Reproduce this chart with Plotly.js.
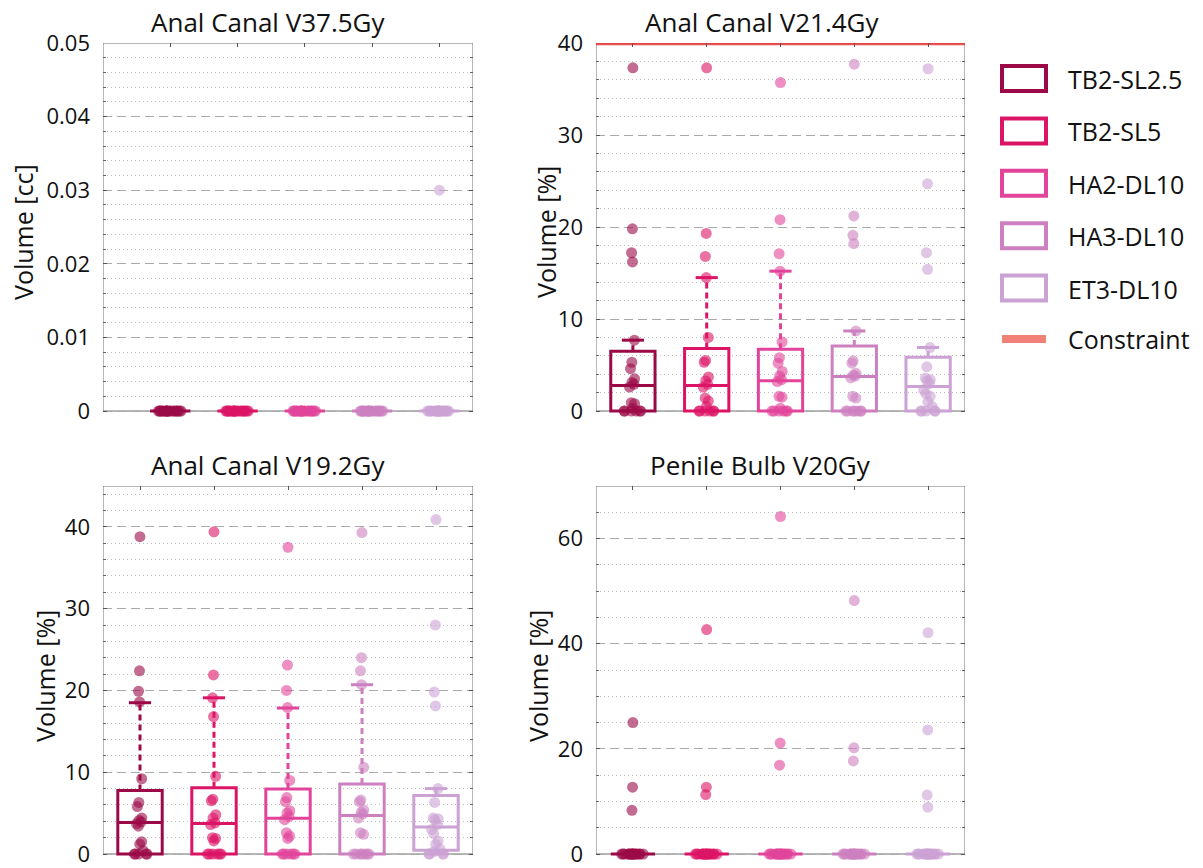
<!DOCTYPE html>
<html><head><meta charset="utf-8">
<script src="https://cdn.plot.ly/plotly-3.0.1.min.js"></script>
<style>html,body{margin:0;padding:0;background:#fff}</style>
</head><body><div id="chart" style="width:1203px;height:868px"></div>
<script>
// ---------- DATA ----------
const groups = ['TB2-SL2.5', 'TB2-SL5', 'HA2-DL10', 'HA3-DL10', 'ET3-DL10'];
const panelTitles = ['Anal Canal V37.5Gy', 'Anal Canal V21.4Gy', 'Anal Canal V19.2Gy', 'Penile Bulb V20Gy'];
const yTitles = ['Volume [cc]', 'Volume [%]', 'Volume [%]', 'Volume [%]'];
const constraintV214 = 40;
const constraintLabel = 'Constraint';

// Anal Canal V37.5Gy [cc]
const v375_g1 = [0,0,0,0,0,0,0,0,0,0,0,0,0,0,0,0,0,0,0,0];
const v375_g2 = [0,0,0,0,0,0,0,0,0,0,0,0,0,0,0,0,0,0,0,0];
const v375_g3 = [0,0,0,0,0,0,0,0,0,0,0,0,0,0,0,0,0,0,0,0];
const v375_g4 = [0,0,0,0,0,0,0,0,0,0,0,0,0,0,0,0,0,0,0,0];
const v375_g5 = [0.03,0,0,0,0,0,0,0,0,0,0,0,0,0,0,0,0,0,0,0];
const v375_q1 = [0, 0, 0, 0, 0];
const v375_med = [0, 0, 0, 0, 0];
const v375_q3 = [0, 0, 0, 0, 0];
const v375_whHi = [0, 0, 0, 0, 0];
const v375_whLo = [0, 0, 0, 0, 0];

// Anal Canal V21.4Gy [%]
const v214_g1 = [37.3, 19.8, 17.2, 16.2, 7.7, 5.3, 4.6, 3.5, 3.1, 2.9, 2.6, 0.9, 0.8, 0.3, 0, 0, 0, 0, 0, 0];
const v214_g2 = [37.3, 19.3, 16.8, 14.5, 8.0, 5.5, 5.3, 3.7, 3.3, 2.9, 2.6, 1.4, 1.1, 0.5, 0, 0, 0, 0, 0, 0];
const v214_g3 = [35.7, 20.8, 17.1, 15.2, 7.5, 5.8, 5.2, 4.3, 3.8, 3.4, 3.2, 1.6, 1.5, 0.3, 0, 0, 0, 0, 0, 0];
const v214_g4 = [37.7, 21.2, 19.1, 18.2, 8.7, 5.45, 5.2, 4.1, 3.9, 3.8, 3.6, 1.6, 1.4, 0, 0, 0, 0, 0, 0, 0];
const v214_g5 = [37.2, 24.7, 17.2, 15.4, 6.9, 4.8, 3.6, 3.4, 3.3, 3.0, 2.3, 1.9, 1.6, 1.0, 0.5, 0, 0, 0, 0, 0];
const v214_q1 = [0, 0, 0, 0, 0];
const v214_med = [2.76, 2.76, 3.3, 3.74, 2.65];
const v214_q3 = [6.5, 6.8, 6.7, 7.07, 5.85];
const v214_whHi = [7.7, 14.5, 15.2, 8.7, 6.9];
const v214_whLo = [0, 0, 0, 0, 0];

// Anal Canal V19.2Gy [%]
const v192_g1 = [38.8, 22.4, 19.9, 18.6, 9.2, 6.3, 5.8, 4.4, 4.1, 3.9, 3.7, 3.4, 1.5, 1.2, 0.4, 0, 0, 0, 0, 0];
const v192_g2 = [39.4, 21.9, 19.1, 16.8, 9.5, 6.7, 6.5, 4.8, 4.4, 3.8, 3.6, 2.0, 1.9, 1.6, 0, 0, 0, 0, 0, 0];
const v192_g3 = [37.5, 23.1, 20.0, 17.9, 9.0, 6.9, 6.4, 5.3, 5.0, 4.6, 4.2, 2.6, 2.2, 1.9, 0, 0, 0, 0, 0, 0];
const v192_g4 = [39.3, 24.0, 22.4, 20.7, 10.6, 6.6, 6.4, 5.4, 5.1, 4.9, 4.4, 2.6, 2.4, 0, 0, 0, 0, 0, 0, 0];
const v192_g5 = [40.9, 28.0, 19.8, 18.1, 8.0, 6.3, 4.4, 4.3, 4.2, 3.6, 3.0, 2.5, 1.6, 1.2, 0.6, 0.3, 0, 0, 0, 0];
const v192_q1 = [0, 0, 0, 0, 0.45];
const v192_med = [3.85, 3.73, 4.38, 4.72, 3.3];
const v192_q3 = [7.75, 8.1, 7.95, 8.55, 7.15];
const v192_whHi = [18.5, 19.1, 17.85, 20.7, 8.0];
const v192_whLo = [0, 0, 0, 0, 0];

// Penile Bulb V20Gy [%]
const pb_g1 = [25.0, 12.7, 8.3, 0,0,0,0,0,0,0,0,0,0,0,0,0,0,0,0,0];
const pb_g2 = [42.7, 12.7, 11.3, 0,0,0,0,0,0,0,0,0,0,0,0,0,0,0,0,0];
const pb_g3 = [64.2, 21.1, 16.9, 0,0,0,0,0,0,0,0,0,0,0,0,0,0,0,0,0];
const pb_g4 = [48.2, 20.2, 17.7, 0,0,0,0,0,0,0,0,0,0,0,0,0,0,0,0,0];
const pb_g5 = [42.1, 23.6, 11.2, 8.9, 0,0,0,0,0,0,0,0,0,0,0,0,0,0,0,0];
const pb_q1 = [0, 0, 0, 0, 0];
const pb_med = [0, 0, 0, 0, 0];
const pb_q3 = [0, 0, 0, 0, 0];
const pb_whHi = [0, 0, 0, 0, 0];
const pb_whLo = [0, 0, 0, 0, 0];

// y-axis settings per panel
const yMax = [0.05, 40, 45, 70];
const yMajor = [0.01, 10, 10, 20];
const yMinor = [0.002, 2, 2, 5];

// ---------- STYLE ----------
const colors = ['#9b0a47', '#dc1466', '#e1449a', '#cd80bf', '#cba2d3'];
const FONT = 'Open Sans, Noto Sans, sans-serif';
const W = 1203, H = 868;
const px = x => x / W;
const py = y => 1 - y / H;

const panels = [
  {samples:[v375_g1,v375_g2,v375_g3,v375_g4,v375_g5], q1:v375_q1, med:v375_med, q3:v375_q3, hi:v375_whHi, lo:v375_whLo},
  {samples:[v214_g1,v214_g2,v214_g3,v214_g4,v214_g5], q1:v214_q1, med:v214_med, q3:v214_q3, hi:v214_whHi, lo:v214_whLo},
  {samples:[v192_g1,v192_g2,v192_g3,v192_g4,v192_g5], q1:v192_q1, med:v192_med, q3:v192_q3, hi:v192_whHi, lo:v192_whLo},
  {samples:[pb_g1,pb_g2,pb_g3,pb_g4,pb_g5], q1:pb_q1, med:pb_med, q3:pb_q3, hi:pb_whHi, lo:pb_whLo}
];
const frames = [
  {l:103, r:473, t:43, b:411, xr:[0, 5.5]},
  {l:596, r:965, t:43, b:411, xr:[0.5, 5.5]},
  {l:103, r:473, t:486, b:854, xr:[0.5, 5.5]},
  {l:596, r:965, t:486, b:854, xr:[0.5, 5.5]}
];
const PAD = 9;

const boxW = 0.6, capHalf = 0.15;
const traces = [];
panels.forEach((p, k) => {
  const xa = 'x' + (k === 0 ? '' : k + 1), ya = 'y' + (k === 0 ? '' : k + 1);
  groups.forEach((g, i) => {
    const pos = i + 1, c = colors[i];
    traces.push({type:'box', xaxis:xa, yaxis:ya, name:g, x:[pos],
      q1:[p.q1[i]], median:[p.med[i]], q3:[p.q3[i]],
      lowerfence:[p.q1[i]], upperfence:[p.q3[i]],
      width:boxW, whiskerwidth:0, boxpoints:false,
      line:{color:c, width:3}, fillcolor:'rgba(0,0,0,0)', showlegend:false, hoverinfo:'skip'});
    traces.push({type:'scatter', mode:'lines', xaxis:xa, yaxis:ya, cliponaxis:false,
      x:[pos, pos, null, pos, pos], y:[p.q3[i], p.hi[i], null, p.q1[i], p.lo[i]],
      line:{color:c, width:3, dash:'6px,4px'}, showlegend:false, hoverinfo:'skip'});
    traces.push({type:'scatter', mode:'lines', xaxis:xa, yaxis:ya, cliponaxis:false,
      x:[pos - capHalf, pos + capHalf, null, pos - capHalf, pos + capHalf],
      y:[p.hi[i], p.hi[i], null, p.lo[i], p.lo[i]],
      line:{color:c, width:3}, showlegend:false, hoverinfo:'skip'});
  });
  groups.forEach((g, i) => {
    const pos = i + 1, c = colors[i];
    traces.push({type:'box', xaxis:xa, yaxis:ya, name:g, x0:pos, y:p.samples[i],
      boxpoints:'all', jitter:0.6, pointpos:0, width:boxW,
      line:{color:c, width:0}, fillcolor:'rgba(0,0,0,0)',
      marker:{color:c, size:11, opacity:0.6, line:{width:0}},
      showlegend:false, hoveron:'points'});
  });
});
traces.push({type:'scatter', mode:'lines', xaxis:'x2', yaxis:'y2', cliponaxis:false,
  x:[0.5, 5.5], y:[constraintV214, constraintV214],
  line:{color:'rgba(234,56,56,0.88)', width:4.5}, showlegend:false, hoverinfo:'skip'});

const layout = {
  width:W, height:H, margin:{l:0, r:0, t:0, b:0}, paper_bgcolor:'#fff', plot_bgcolor:'#fff',
  showlegend:false, boxmode:'overlay', font:{family:FONT, color:'#111'},
  annotations:[], shapes:[]
};
frames.forEach((f, k) => {
  const sx = k === 0 ? '' : String(k + 1);
  const ymin = -PAD * yMax[k] / (f.b - f.t);
  layout['xaxis' + sx] = {domain:[px(f.l), px(f.r)], range:f.xr, anchor:'y' + sx, side:'top',
    showline:false, ticks:'inside', ticklen:4, tickcolor:'#555', tickvals:[1,2,3,4,5],
    showticklabels:false, showgrid:false, zeroline:false};
  layout['yaxis' + sx] = {domain:[py(f.b + PAD), py(f.t)], range:[ymin, yMax[k]], anchor:'x' + sx,
    showline:false, mirror:'ticks', ticks:'inside', ticklen:4, tickcolor:'#555',
    tick0:0, dtick:yMajor[k], zeroline:false, ticklabeloverflow:'allow',
    showgrid:true, gridcolor:'#aaaaaa', gridwidth:1, griddash:'9px,5px',
    tickfont:{family:FONT, size:22, color:'#111'}, ticklabelstandoff:12,
    minor:{dtick:yMinor[k], tick0:0, showgrid:true, gridcolor:'#bdbdbd', griddash:'1px,3px',
      ticks:'inside', ticklen:3, tickcolor:'#666'}};
  layout.shapes.push({type:'rect', xref:'x' + sx, yref:'y' + sx, x0:f.xr[0], x1:f.xr[1], y0:0, y1:yMax[k],
    line:{color:'#707070', width:1}, fillcolor:'rgba(0,0,0,0)', layer:'below'});
});

const titlePos = [[268, 22], [762, 22], [268, 465], [760, 465]];
const yTitlePos = [[23, 232], [546, 232], [45, 676], [538, 676]];
panelTitles.forEach((t, k) => {
  layout.annotations.push({text:t, xref:'paper', yref:'paper', x:px(titlePos[k][0]), y:py(titlePos[k][1]),
    xanchor:'center', yanchor:'middle', showarrow:false, font:{family:FONT, size:26, color:'#111'}});
  layout.annotations.push({text:yTitles[k], xref:'paper', yref:'paper', x:px(yTitlePos[k][0]), y:py(yTitlePos[k][1]),
    xanchor:'center', yanchor:'middle', textangle:-90, showarrow:false, font:{family:FONT, size:25, color:'#111'}});
});

groups.forEach((g, i) => {
  const top = 66 + i * 52.4;
  layout.shapes.push({type:'rect', xref:'paper', yref:'paper', x0:px(1002), x1:px(1046), y0:py(top), y1:py(top + 25),
    line:{color:colors[i], width:4}, fillcolor:'rgba(255,255,255,0)'});
  layout.annotations.push({text:g, xref:'paper', yref:'paper', x:px(1066), y:py(top + 13),
    xanchor:'left', yanchor:'middle', showarrow:false, font:{family:FONT, size:25, color:'#111'}});
});
layout.shapes.push({type:'line', xref:'paper', yref:'paper', x0:px(1002), x1:px(1046), y0:py(339), y1:py(339),
  line:{color:'#f08078', width:8}});
layout.annotations.push({text:constraintLabel, xref:'paper', yref:'paper', x:px(1066), y:py(339),
  xanchor:'left', yanchor:'middle', showarrow:false, font:{family:FONT, size:25, color:'#111'}});

Plotly.newPlot('chart', traces, layout, {displayModeBar:false, staticPlot:true});
</script></body></html>
